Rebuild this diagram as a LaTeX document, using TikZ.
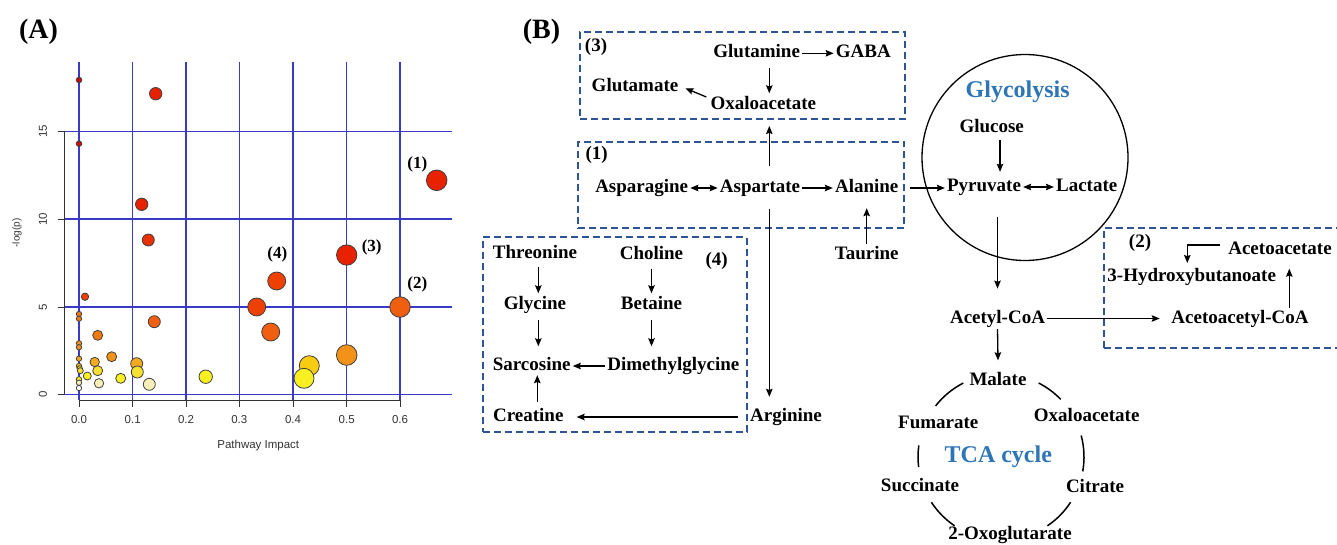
\documentclass[tikz,border=0pt]{standalone}
\usepackage{fontspec}
\setmainfont{Liberation Serif}
\newfontfamily\plotsans{Liberation Sans}
\usetikzlibrary{arrows.meta,calc}
\definecolor{gridblue}{HTML}{3A3AC8}
\definecolor{boxblue}{HTML}{2F5496}
\definecolor{titleblue}{HTML}{2E75B6}
\definecolor{cA}{HTML}{C81000}
\definecolor{cB}{HTML}{E82200}
\definecolor{cBb}{HTML}{E83000}
\definecolor{cC}{HTML}{EE4000}
\definecolor{cD}{HTML}{F05E10}
\definecolor{cE}{HTML}{F07A10}
\definecolor{cF}{HTML}{F29218}
\definecolor{cG}{HTML}{F4AA20}
\definecolor{cH}{HTML}{F8CC10}
\definecolor{cI}{HTML}{F8E030}
\definecolor{cJ}{HTML}{F8F020}
\definecolor{cK}{HTML}{F8F0B8}
\definecolor{cL}{HTML}{FFFFFF}
\tikzset{
  lbl/.style={font=\bfseries\fontsize{19}{19}\selectfont, inner sep=2pt, text height=13pt, text depth=4pt},
  ttl/.style={font=\bfseries\fontsize{24}{24}\selectfont, text=titleblue, inner sep=2pt},
  panel/.style={font=\bfseries\fontsize{28}{28}\selectfont, inner sep=0pt},
  plbl/.style={font=\bfseries\fontsize{17}{17}\selectfont, inner sep=0pt},
  tick/.style={font=\plotsans\fontsize{11.5}{11.5}\selectfont, text=black!80, inner sep=0pt},
  axlbl/.style={font=\plotsans\fontsize{11.5}{11.5}\selectfont, text=black!80, inner sep=0pt},
  arr/.style={-{Stealth[length=8pt,width=6.5pt,inset=1.2pt]}, line width=1.3pt},
  darr/.style={{Stealth[length=8pt,width=6.5pt,inset=1.2pt]}-{Stealth[length=8pt,width=6.5pt,inset=1.2pt]}, line width=1.3pt},
  pbox/.style={draw=boxblue, line width=2pt, dash pattern=on 7pt off 4pt, inner sep=0pt},
  gridln/.style={draw=gridblue, line width=1.3pt},
  ax/.style={draw=black!80, line width=1pt},
  bub/.style={draw=black!75, line width=0.8pt},
  tcaarc/.style={line width=1.5pt},
}
\begin{document}
\begin{tikzpicture}[x=1pt,y=-1pt]
\useasboundingbox (0,0) rectangle (1337,544);
\clip (0,0) rectangle (1337,544);
\fill[white] (0,0) rectangle (1337,544);

% ---------------- Panel A ----------------
\node[panel] (pA) at (38.5,31.5) {(A)};
\node[panel] (pB) at (541.5,31.5) {(B)};

% grid
\foreach \gx in {79,132.7,186,239.3,293,346.7,400}
  \draw[gridln] (\gx,62) -- (\gx,400);
\foreach \gy in {131.3,219,307,394.3}
  \draw[gridln] (64.3,\gy) -- (452,\gy);
% axes
\draw[ax] (64.3,131.3) -- (64.3,394.3);
\foreach \gy in {131.3,219,307,394.3}
  \draw[ax] (57.5,\gy) -- (64.3,\gy);
\draw[ax] (79,400) -- (400,400);
\foreach \gx in {79,132.7,186,239.3,293,346.7,400}
  \draw[ax] (\gx,400) -- (\gx,406.5);
% tick labels
\node[tick, rotate=90] (ty0) at (43,394.3) {0};
\node[tick, rotate=90] (ty5) at (43,307) {5};
\node[tick, rotate=90] (ty10) at (43,219) {10};
\node[tick, rotate=90] (ty15) at (43,131.3) {15};
\node[tick] (tx0) at (79,420) {0.0};
\node[tick] (tx1) at (132.7,420) {0.1};
\node[tick] (tx2) at (186,420) {0.2};
\node[tick] (tx3) at (239.3,420) {0.3};
\node[tick] (tx4) at (293,420) {0.4};
\node[tick] (tx5) at (346.7,420) {0.5};
\node[tick] (tx6) at (400,420) {0.6};
\node[axlbl] (xlab) at (258.3,445.7) {Pathway Impact};
\node[axlbl, font=\plotsans\fontsize{10}{10}\selectfont, rotate=90] (ylab) at (17,233) {-log(p)};

% bubbles
\foreach \bx/\by/\br/\bc in {
  79/80/2.8/cA, 155.7/93.7/6.2/cB, 79/143.7/2.8/cA, 436.7/180.3/10.3/cB,
  141.7/204.3/6.2/cB, 148.3/240/6/cBb, 346.7/255/10.2/cB, 276.7/281/9/cC,
  85/296.7/3.7/cC, 256.7/307/9/cC, 400/307/10.3/cD, 79/314/2.7/cE,
  79/318.7/2.7/cE, 154.3/321.7/6/cD, 270.7/332/9/cD, 97.7/335.3/5/cE,
  79/343.3/2.7/cF, 79/347.3/2.7/cF, 346.7/355/10.3/cF, 111.7/356.7/5/cF,
  79/358.7/2.7/cG, 94.7/362/4.7/cG, 136.7/363.7/6/cG, 309.3/365.7/10/cH,
  79/366/2.7/cH, 79.7/368.3/2.7/cH, 80.3/370.7/3/cI, 97.7/370.7/5/cI,
  137.3/372/6/cI, 87.3/376/4/cJ, 205.7/376.7/6.7/cJ, 120.7/378.3/5/cJ,
  304/378.3/10/cJ, 79/379.3/2.7/cJ, 79/382.7/2.7/cK, 99/383.3/4.7/cK,
  149.3/384.3/6/cK, 79/388/2.7/cL}
  \filldraw[bub, fill=\bc] (\bx,\by) circle[radius=\br pt];

\node[plbl] (a1) at (417.3,164) {(1)};
\node[plbl] (a3) at (371.7,247.7) {(3)};
\node[plbl] (a4) at (277.3,254.3) {(4)};
\node[plbl] (a2) at (417.3,284.3) {(2)};

% ---------------- Panel B ----------------
% boxes
\node[pbox, minimum width=325pt, minimum height=87pt] (b3) at (742.5,75) {};
\node[pbox, minimum width=326pt, minimum height=86.6pt] (b1) at (741.2,185) {};
\node[pbox, minimum width=264pt, minimum height=194.4pt] (b4) at (614.7,334.5) {};
\node[pbox, minimum width=241pt, minimum height=120pt] (b2) at (1224.5,288.3) {};

% glycolysis circle
\node[draw, circle, line width=1.3pt, minimum size=206pt, inner sep=0pt] (glyc) at (1025,157.5) {};

% box 3
\node[lbl] (l3) at (596,47) {(3)};
\node[lbl] (gln) at (756.7,53.3) {Glutamine};
\node[lbl] (gaba) at (863.3,53.3) {GABA};
\node[lbl] (glu) at (635,87.3) {Glutamate};
\node[lbl] (oaa) at (763.3,105) {Oxaloacetate};
% box 1
\node[lbl] (l1) at (596.7,155) {(1)};
\node[lbl] (asn) at (641.7,188) {Asparagine};
\node[lbl] (asp) at (760,188) {Aspartate};
\node[lbl] (ala) at (866.7,188) {Alanine};
\node[lbl] (tau) at (866.7,255) {Taurine};
\node[lbl] (arg) at (786,417) {Arginine};
% box 4
\node[lbl] (thr) at (535,254) {Threonine};
\node[lbl] (cho) at (651.5,255) {Choline};
\node[lbl] (l4) at (716.7,260.7) {(4)};
\node[lbl] (gly) at (535,305) {Glycine};
\node[lbl] (bet) at (651.5,305) {Betaine};
\node[lbl] (sar) at (531.7,366) {Sarcosine};
\node[lbl] (dmg) at (673.3,366) {Dimethylglycine};
\node[lbl] (cre) at (528.3,417) {Creatine};
% glycolysis
\node[ttl] (glytitle) at (1017.7,91.7) {Glycolysis};
\node[lbl] (glc) at (991.7,128.3) {Glucose};
\node[lbl] (pyr) at (984,187) {Pyruvate};
\node[lbl] (lac) at (1086.7,187) {Lactate};
\node[lbl] (acoa) at (997.5,318.5) {Acetyl-CoA};
% box 2
\node[lbl] (l2) at (1140,242.7) {(2)};
\node[lbl] (aca) at (1280,250) {Acetoacetate};
\node[lbl] (hb) at (1191.7,276.7) {3-Hydroxybutanoate};
\node[lbl] (aacoa) at (1240,318.5) {Acetoacetyl-CoA};
% TCA
\node[lbl] (mal) at (998,381) {Malate};
\node[lbl] (oaa2) at (1086.7,416.7) {Oxaloacetate};
\node[lbl] (cit) at (1095,488.3) {Citrate};
\node[lbl] (ogl) at (1010,535) {2-Oxoglutarate};
\node[lbl] (suc) at (920,486.7) {Succinate};
\node[lbl] (fum) at (938.3,424) {Fumarate};
\node[ttl] (tcatitle) at (998.3,456.7) {TCA cycle};
\coordinate (tcac) at (1001,457);

% arrows box 3
\draw[arr] (gln) -- (gaba);
\draw[arr] ($(gln.south)+(12.6,4)$) -- ($(oaa.north)+(6,-1)$);
\draw[arr] ($(oaa.west)+(-2,-8)$) -- ($(glu.east)+(5,1)$);
% arrows box 1
\draw[arr] ($(asp.north)+(9.3,-11)$) -- ($(asp.north |- b3.south)+(9.3,6.5)$);
\draw[darr] (asn) -- (asp);
\draw[arr] (asp) -- (ala);
\draw[arr] ($(asp.south)+(9.3,10)$) -- ($(asp.south |- arg.north)+(9.3,-9.5)$);
\draw[arr] ($(arg.west)+(-10,0)$) -- ($(cre.east)+(11,0)$);
\draw[arr] (tau.north) -- ($(ala.south)+(0,9.5)$);
\draw[arr] ($(ala.east)+(9.6,0)$) -- (ala.east -| pyr.west);
% glycolysis arrows
\draw[arr] ($(glc.south)+(8.3,1.2)$) -- ($(glc.south |- pyr.north)+(8.3,-4.5)$);
\draw[darr] (pyr) -- (lac);
\draw[arr] ($(acoa.north |- pyr.south)+(0,19.5)$) -- ($(acoa.north)+(0,-19.2)$);
\draw[arr] (acoa) -- ($(aacoa.west)+(-9.5,0)$);
% box 2 arrows
\draw[arr] ($(aacoa.north)+(49.3,0)$) -- ($(aca.south)+(9.3,8)$);
\draw[arr] ($(aca.west)+(-6,-5)$) -| ($(hb.north)+(-4.4,-3)$);
\draw[arr] (acoa.south) -- ($(mal.north)+(0,-10)$);
% box 4 arrows
\draw[arr] ($(thr.south)+(3.3,2)$) -- ($(gly.north)+(3.3,-1)$);
\draw[arr] ($(cho.south)+(0,3)$) -- ($(bet.north)+(0,-1)$);
\draw[arr] ($(gly.south)+(3.3,4.5)$) -- ($(gly.south |- sar.north)+(3.3,-9)$);
\draw[arr] ($(bet.south)+(0,4.5)$) -- ($(bet.south |- dmg.north)+(0,-9)$);
\draw[arr] (dmg) -- (sar);
\draw[arr] ($(cre.north)+(9,-4.8)$) -- ($(cre.north |- sar.south)+(9,-1.5)$);

% TCA cycle arcs
\draw[tcaarc] (tcac) ++(-63:83) arc[start angle=-63, end angle=-44, radius=83];
\draw[tcaarc] (tcac) ++(-117:83) arc[start angle=-117, end angle=-142, radius=83];
\draw[tcaarc] (tcac) ++(173:83) arc[start angle=173, end angle=188, radius=83];
\draw[tcaarc] (tcac) ++(-15:83) arc[start angle=-15, end angle=10, radius=83];
\draw[tcaarc] (tcac) ++(33:83) arc[start angle=33, end angle=56, radius=83];
\draw[tcaarc] (tcac) ++(124:83) arc[start angle=124, end angle=147, radius=83];
\end{tikzpicture}
\end{document}
